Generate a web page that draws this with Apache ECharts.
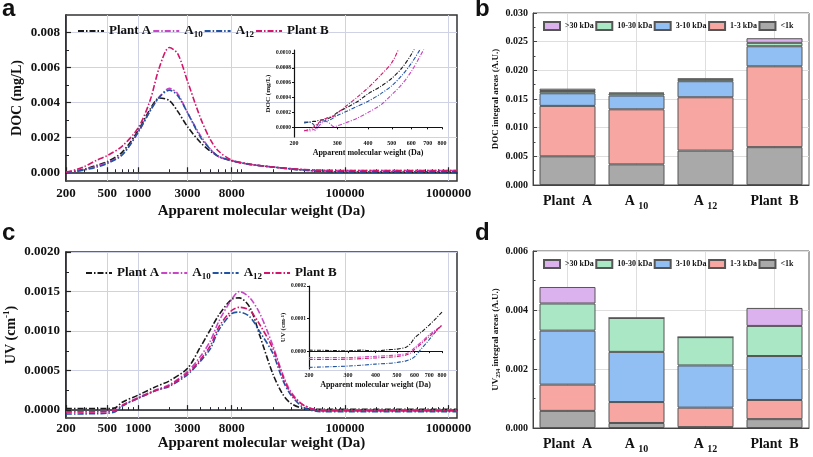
<!DOCTYPE html>
<html><head><meta charset="utf-8">
<script src="https://cdn.jsdelivr.net/npm/echarts@6/dist/echarts.min.js"></script>
<style>html,body{margin:0;padding:0;background:#fff}#c{width:813px;height:457px}</style>
</head><body><div id="c"></div><script>
// ================= DATA =================
const lineNames = ['Plant A', 'A10', 'A12', 'Plant B'];

// Panel a (DOC chromatogram)
const mwDoc = [200, 250, 300, 400, 500, 700, 1000, 1300, 1600, 2000, 2400, 3000, 4000, 5000, 6000, 8000, 12000, 20000, 35000, 60000, 100000, 300000, 1000000, 1200000];
const docPlantA = [0, 0.00008, 0.00018, 0.0004, 0.0006, 0.00115, 0.0024, 0.0036, 0.00425, 0.0041, 0.0035, 0.0026, 0.0017, 0.0012, 0.0009, 0.00066, 0.00045, 0.0003, 0.00015, 0.00006, 0.00002, 0.00001, 0.00001, 0.00001];
const docA10 = [0, 0.00006, 0.00015, 0.00035, 0.00055, 0.001, 0.0023, 0.0035, 0.0043, 0.0048, 0.0045, 0.0034, 0.0021, 0.0013, 0.0009, 0.00066, 0.00045, 0.0003, 0.00017, 0.0001, 0.0001, 0.0001, 0.0001, 0.0001];
const docA12 = [0, 0.00005, 0.00013, 0.0003, 0.0005, 0.001, 0.0023, 0.0035, 0.0043, 0.0047, 0.0044, 0.0034, 0.002, 0.0013, 0.0009, 0.00066, 0.00045, 0.0003, 0.00015, 0.00005, 0.00002, 0.00002, 0.00002, 0.00002];
const docPlantB = [0, 0.00015, 0.00032, 0.0007, 0.00095, 0.0015, 0.00255, 0.0041, 0.006, 0.00714, 0.0068, 0.0052, 0.0031, 0.00185, 0.0012, 0.0007, 0.00047, 0.0003, 0.00018, 0.00012, 0.0001, 0.0001, 0.0001, 0.0001];

// Panel a inset
const mwDocInset = [220, 230, 240, 245, 250, 260, 270, 280, 290, 300, 330, 360, 400, 450, 500, 550, 600, 650, 700];
const docInsPlantA = [0.00006, 0.00007, 0.00008, 0.00008, 0.00009, 0.0001, 0.00011, 0.00013, 0.00016, 0.0002, 0.00027, 0.00034, 0.00045, 0.00055, 0.00066, 0.0008, 0.00098, 0.0012, 0.0014];
const docInsA10 = [-0.00004, -0.00005, -0.00003, -0.00004, 0.0, 0.00006, 0.00008, 0.00005, 0.00001, 0.00002, 0.00007, 0.00012, 0.0002, 0.0003, 0.00044, 0.00058, 0.00075, 0.00095, 0.00115];
const docInsA12 = [0.00007, 0.00007, 0.00004, -0.00001, 0.00004, 0.00008, 0.00009, 0.0001, 0.00013, 0.00016, 0.00022, 0.00028, 0.00035, 0.00045, 0.00056, 0.0007, 0.00086, 0.00104, 0.0012];
const docInsPlantB = [-0.00005, -0.00003, 0.0, 0.00003, 0.00005, 0.0001, 0.00012, 0.00014, 0.00015, 0.00019, 0.0003, 0.0004, 0.00053, 0.0007, 0.00087, 0.00115, 0.0014, 0.0017, 0.002];

// Panel c (UV chromatogram)
const mwUv = [200, 300, 400, 500, 600, 700, 1000, 1500, 2000, 3000, 4000, 5000, 6000, 8000, 9500, 12000, 15000, 20000, 25000, 30000, 40000, 60000, 100000, 300000, 1000000, 1200000];
const uvPlantA = [0.00002, 0.00002, 0.00002, 0.00002, 0.00003, 0.0001, 0.00019, 0.0003, 0.00037, 0.00053, 0.0008, 0.00102, 0.0012, 0.0014, 0.00142, 0.0013, 0.00094, 0.00046, 0.0002, 0.000085, 0.00002, 0.00001, 0.00001, 0.00001, 0.00001, 0.00001];
const uvA10 = [-0.00002, -0.00002, -0.00002, -0.000015, 0.0, 0.00006, 0.00016, 0.00026, 0.00032, 0.00049, 0.00068, 0.00088, 0.00112, 0.0014, 0.0015, 0.00142, 0.00122, 0.00082, 0.00045, 0.00023, 0.00006, 0.0, 0.0, 0.0, 0.0, 0.0];
const uvA12 = [-0.00005, -0.000048, -0.000045, -0.00004, -0.00002, 0.00005, 0.00015, 0.00025, 0.0003, 0.00045, 0.00062, 0.00078, 0.00101, 0.00122, 0.00124, 0.00118, 0.00099, 0.00072, 0.00038, 0.00019, 0.00003, -0.00002, -0.00002, -0.00002, -0.00002, -0.00002];
const uvPlantB = [-0.000025, -0.000025, -0.000022, -0.00002, -0.000005, 0.00006, 0.00015, 0.00025, 0.00031, 0.00047, 0.00064, 0.00082, 0.00105, 0.00126, 0.0013, 0.00126, 0.00108, 0.00078, 0.00043, 0.00021, 0.00006, -0.00001, -0.00001, -0.00001, -0.00001, -0.00001];

// Panel c inset
const mwUvInset = [200, 250, 300, 350, 400, 450, 500, 550, 580, 600, 650, 700, 750, 800];
const uvInsPlantA = [0.000003, 0.000002, 0.000001, 0.000003, 0.0, 0.000004, 0.000006, 0.000012, 0.000025, 0.00004, 0.00006, 0.00008, 0.0001, 0.00012];
const uvInsA10 = [-0.00002, -0.00002, -0.00002, -0.000018, -0.000016, -0.000014, -0.000012, -0.000008, 0.0, 0.00001, 0.00003, 0.00005, 0.000065, 0.00008];
const uvInsA12 = [-0.00005, -0.000048, -0.000046, -0.000043, -0.00004, -0.000038, -0.000035, -0.00003, -0.000024, -0.000018, 0.00001, 0.000035, 0.00006, 0.00008];
const uvInsPlantB = [-0.000026, -0.000026, -0.000025, -0.000023, -0.000021, -0.000019, -0.000017, -0.000012, -0.000005, 0.000005, 0.000025, 0.000045, 0.000062, 0.00008];

// Panels b / d (stacked integral areas)
const barCategories = ['Plant A', 'A10', 'A12', 'Plant B'];
const fractionNames = ['<1k', '1-3 kDa', '3-10 kDa', '10-30 kDa', '>30 kDa'];
const docLt1k = [0.0050, 0.0036, 0.0060, 0.0066];
const doc1to3 = [0.0088, 0.0096, 0.0093, 0.0141];
const doc3to10 = [0.0022, 0.0024, 0.0028, 0.0035];
const doc10to30 = [0.0004, 0.00035, 0.00035, 0.0006];
const docGt30 = [0.0004, 0.00017, 0.0001, 0.0008];
const uvLt1k = [0.00058, 0.00017, 0.00003, 0.0003];
const uv1to3 = [0.00089, 0.00071, 0.00066, 0.00065];
const uv3to10 = [0.00183, 0.0017, 0.00143, 0.00149];
const uv10to30 = [0.00092, 0.00115, 0.00096, 0.00102];
const uvGt30 = [0.00056, 0, 0, 0.00061];

// Tick labels
const mwTicksMain = [200, 500, 1000, 3000, 8000, 100000, 1000000];
const mwTicksInset = [200, 300, 400, 500, 600, 700, 800];
const docTicks = [0, 0.002, 0.004, 0.006, 0.008];
const docMinorTicks = [0.001, 0.003, 0.005, 0.007];
const uvTicks = [0, 0.0005, 0.001, 0.0015, 0.002];
const uvMinorTicks = [0.00025, 0.00075, 0.00125, 0.00175];
const docInsetTicks = [0, 0.0002, 0.0004, 0.0006, 0.0008, 0.001];
const uvInsetTicks = [0, 0.0001, 0.0002];

// ================= CHART =================
const SERIF = '"Liberation Serif","Times New Roman",serif';
const L = Math.log10;
const lineColors = { 'Plant A': '#1a1a1a', 'A10': '#c944c6', 'A12': '#2153a3', 'Plant B': '#d3166c' };
const barColors = { '<1k': '#a9a9a9', '1-3 kDa': '#f7a6a1', '3-10 kDa': '#91bff4', '10-30 kDa': '#a9e7c5', '>30 kDa': '#dcb2ee' };
const DASH = [6, 2, 1.5, 2];
const DASH_S = [4, 1.5, 1, 1.5];

const minorMw = [];
for (let k = 2; k <= 6; k++) for (let m = 1; m <= 9; m++) {
  const v = m * Math.pow(10, k);
  if (v >= 200 && v <= 1200000 && mwTicksMain.indexOf(v) < 0) minorMw.push(v);
}
const pairs = (mw, vals) => mw.map((m, i) => [L(m), vals[i]]);
const subRich = {
  sub: { fontFamily: SERIF, fontWeight: 'bold', fontSize: 9, color: '#111', verticalAlign: 'bottom', lineHeight: 9 },
  sup: { fontFamily: SERIF, fontWeight: 'bold', fontSize: 9, color: '#111', verticalAlign: 'top', lineHeight: 9 }
};
const fmtName = n => n.replace(/^A(\d+)$/, 'A{sub|$1}');
const boldText = (size, extra) => Object.assign({ fontFamily: SERIF, fontWeight: 'bold', fontSize: size, color: '#111' }, extra || {});

const XMAX = 6.083;
function mainX(grid, nameGap, labelMargin) {
  return [{
    gridIndex: grid, type: 'value', position: 'bottom', min: L(200), max: XMAX,
    axisLine: { show: true, lineStyle: { color: '#222', width: 1.5 } },
    axisTick: { show: true, inside: true, length: 5, customValues: mwTicksMain.map(L), lineStyle: { color: '#222', width: 1.2 } },
    axisLabel: { customValues: mwTicksMain.map(L), formatter: v => String(Math.round(Math.pow(10, v))), margin: labelMargin, ...boldText(13) },
    splitLine: { show: true, lineStyle: { color: '#cfd1e4', width: 1 } },
    name: 'Apparent molecular weight (Da)', nameLocation: 'middle', nameGap: nameGap, nameTextStyle: boldText(15)
  }, {
    gridIndex: grid, type: 'value', position: 'bottom', min: L(200), max: XMAX,
    axisLine: { show: false }, axisLabel: { show: false }, splitLine: { show: false },
    axisTick: { show: true, inside: true, length: 3, customValues: minorMw.map(L), lineStyle: { color: '#223', width: 1 } }
  }];
}
function mainY(grid, min, max, ticks, minor, dec, name, nameGap) {
  return [{
    gridIndex: grid, type: 'value', position: 'left', min: min, max: max,
    axisLine: { show: true, lineStyle: { color: '#222', width: 1.5 } },
    axisTick: { show: true, inside: true, length: 5, customValues: ticks, lineStyle: { color: '#222', width: 1.2 } },
    axisLabel: { customValues: ticks, formatter: v => v.toFixed(dec), margin: 6, ...boldText(13) },
    splitLine: { show: true, lineStyle: { color: '#cfd1e4', width: 1 } },
    name: name, nameLocation: 'middle', nameRotate: 90, nameGap: nameGap,
    nameTextStyle: boldText(14, { lineHeight: 18, rich: subRich })
  }, {
    gridIndex: grid, type: 'value', position: 'left', min: min, max: max,
    axisLine: { show: false }, axisLabel: { show: false }, splitLine: { show: false },
    axisTick: { show: true, inside: true, length: 3, customValues: minor, lineStyle: { color: '#222', width: 1 } }
  }];
}
function insetX(grid) {
  return {
    gridIndex: grid, type: 'value', position: 'bottom', min: L(200), max: L(800),
    axisLine: { show: true, lineStyle: { color: '#111', width: 1.2 } },
    axisTick: { show: true, inside: false, length: 2, customValues: mwTicksInset.map(L), lineStyle: { color: '#111' } },
    axisLabel: { customValues: mwTicksInset.map(L), formatter: v => String(Math.round(Math.pow(10, v))), margin: 3, ...boldText(6) },
    splitLine: { show: false },
    name: 'Apparent molecular weight (Da)', nameLocation: 'middle', nameGap: 12, nameTextStyle: boldText(8)
  };
}
function insetY(grid, min, max, ticks, name) {
  return {
    gridIndex: grid, type: 'value', position: 'left', min: min, max: max,
    axisLine: { show: true, lineStyle: { color: '#111', width: 1.2 } },
    axisTick: { show: true, inside: false, length: 2, customValues: ticks, lineStyle: { color: '#111' } },
    axisLabel: { customValues: ticks, formatter: v => v.toFixed(4), margin: 3, ...boldText(5.5) },
    splitLine: { show: false },
    name: name, nameLocation: 'middle', nameRotate: 90, nameGap: 21,
    nameTextStyle: boldText(7, { rich: { sup: { fontFamily: SERIF, fontWeight: 'bold', fontSize: 5, verticalAlign: 'top', lineHeight: 5, color: '#111' } } })
  };
}
// value axis used for bar labels, ticks and vertical grid lines (centres at 1..4)
function barX(grid, margin) {
  return {
    gridIndex: grid, type: 'value', position: 'bottom', min: 0.5, max: 4.5,
    axisLine: { show: true, lineStyle: { color: '#444', width: 1 } },
    axisTick: { show: true, inside: true, length: 4, customValues: [1, 2, 3, 4], lineStyle: { color: '#444' } },
    axisLabel: {
      customValues: [1, 2, 3, 4], margin: margin, ...boldText(14, { rich: { sub: { fontFamily: SERIF, fontWeight: 'bold', fontSize: 10, color: '#111', verticalAlign: 'bottom', lineHeight: 10 } }, lineHeight: 20 }),
      formatter: v => { const n = barCategories[Math.round(v) - 1]; return /^A\d+$/.test(n) ? n.replace(/^A(\d+)$/, 'A {sub|$1}') : n.replace(' ', '  '); }
    },
    splitLine: { show: true, lineStyle: { color: '#dedede', width: 1 } }
  };
}
// hidden category axis that places the stacked bars
function barCat(grid) {
  return {
    gridIndex: grid, type: 'category', position: 'bottom', data: barCategories, boundaryGap: true,
    axisLine: { show: false }, axisTick: { show: false }, axisLabel: { show: false }, splitLine: { show: false }
  };
}
function barY(grid, max, interval, name, nameGap) {
  return {
    gridIndex: grid, type: 'value', position: 'left', min: 0, max: max, interval: interval,
    axisLine: { show: true, lineStyle: { color: '#444', width: 1 } },
    axisTick: { show: true, inside: true, length: 4, lineStyle: { color: '#444' } },
    minorTick: { show: true, splitNumber: 2, length: 2.5, lineStyle: { color: '#444' } },
    axisLabel: { formatter: v => v.toFixed(3), margin: 5, ...boldText(10) },
    splitLine: { show: true, lineStyle: { color: '#dedede', width: 1 } },
    name: name, nameLocation: 'middle', nameRotate: 90, nameGap: nameGap,
    nameTextStyle: boldText(9, { lineHeight: 12, rich: { sub: { fontFamily: SERIF, fontWeight: 'bold', fontSize: 6, color: '#111', verticalAlign: 'bottom', lineHeight: 6 } } })
  };
}

function lineSeries(name, mw, vals, xi, yi, small) {
  return {
    type: 'line', name: name, xAxisIndex: xi, yAxisIndex: yi, data: pairs(mw, vals),
    symbol: 'none', smooth: 0.3, clip: true, z: 3,
    lineStyle: { color: lineColors[name], width: small ? 1.1 : 1.6, type: small ? DASH_S : DASH },
    itemStyle: { color: lineColors[name] }
  };
}
function barSeries(name, vals, xi, yi, stack) {
  return {
    type: 'bar', name: name, stack: stack, xAxisIndex: xi, yAxisIndex: yi, barWidth: 56,
    data: vals.slice(),
    itemStyle: { color: barColors[name], borderColor: '#555', borderWidth: 1 }
  };
}

const lineLegend = (left, top) => ({
  data: lineNames, left: left, top: top, orient: 'horizontal', itemWidth: 26, itemHeight: 14, itemGap: 1,
  itemStyle: { opacity: 0, borderWidth: 0 },
  formatter: fmtName, textStyle: boldText(13, { lineHeight: 16, rich: subRich }), selectedMode: false
});
const barLegend = (top) => ({
  data: fractionNames.slice().reverse(), left: 538, top: top, orient: 'horizontal', icon: 'rect',
  itemWidth: 16, itemHeight: 8, itemGap: 1.5, textStyle: boldText(8), selectedMode: false
});

const docSets = [docPlantA, docA10, docA12, docPlantB];
const docInsSets = [docInsPlantA, docInsA10, docInsA12, docInsPlantB];
const uvSets = [uvPlantA, uvA10, uvA12, uvPlantB];
const uvInsSets = [uvInsPlantA, uvInsA10, uvInsA12, uvInsPlantB];
const docBars = [docLt1k, doc1to3, doc3to10, doc10to30, docGt30];
const uvBars = [uvLt1k, uv1to3, uv3to10, uv10to30, uvGt30];

const series = [];
lineNames.forEach((n, i) => series.push(lineSeries(n, mwDoc, docSets[i], 0, 0)));
lineNames.forEach((n, i) => series.push(lineSeries(n, mwDocInset, docInsSets[i], 2, 2, true)));
fractionNames.forEach((n, i) => series.push(barSeries(n, docBars[i], 8, 3, 'doc')));
lineNames.forEach((n, i) => series.push(lineSeries(n, mwUv, uvSets[i], 4, 4)));
lineNames.forEach((n, i) => series.push(lineSeries(n, mwUvInset, uvInsSets[i], 6, 6, true)));
fractionNames.forEach((n, i) => series.push(barSeries(n, uvBars[i], 9, 7, 'uv')));

const gridBase = { show: true, backgroundColor: 'transparent', borderColor: '#333', borderWidth: 1.5, containLabel: false, outerBoundsMode: 'none' };
const option = {
  animation: false,
  backgroundColor: '#fff',
  grid: [
    Object.assign({}, gridBase, { left: 66, top: 15, width: 391, height: 166 }),
    { show: false, left: 294, top: 50, width: 148, height: 87, containLabel: false, outerBoundsMode: 'none' },
    Object.assign({}, gridBase, { left: 533, top: 13, width: 276, height: 172, borderColor: '#555', borderWidth: 1 }),
    Object.assign({}, gridBase, { left: 66, top: 252, width: 391, height: 166 }),
    { show: false, left: 309, top: 286, width: 133, height: 83, containLabel: false, outerBoundsMode: 'none' },
    Object.assign({}, gridBase, { left: 533, top: 251, width: 276, height: 177, borderColor: '#555', borderWidth: 1 })
  ],
  xAxis: [
    ...mainX(0, 23, 6),
    insetX(1),
    barX(2, 6),
    ...mainX(3, 13, 4),
    insetX(4),
    barX(5, 6),
    barCat(2),
    barCat(5)
  ],
  yAxis: [
    ...mainY(0, -0.0005, 0.009, docTicks, docMinorTicks, 3, 'DOC (mg/L)', 39),
    insetY(1, -0.00013, 0.00104, docInsetTicks, 'DOC (mg/L)'),
    barY(2, 0.03, 0.005, 'DOC integral areas (A.U.)', 28),
    ...mainY(3, -0.0001, 0.002, uvTicks, uvMinorTicks, 4, 'UV (cm{sup|-1})', 41),
    insetY(4, -0.000055, 0.0002, uvInsetTicks, 'UV (cm{sup|-1})'),
    barY(5, 0.006, 0.002, 'UV{sub|254} integral areas (A.U.)', 30)
  ],
  legend: [lineLegend(72, 18), barLegend(16), lineLegend(80, 260), barLegend(254)],
  series: series,
  graphic: [
    { type: 'text', left: 2, top: -3, style: { text: 'a', font: 'bold 24px "Liberation Sans", Arial, sans-serif', fill: '#111' } },
    { type: 'text', left: 475, top: -3, style: { text: 'b', font: 'bold 24px "Liberation Sans", Arial, sans-serif', fill: '#111' } },
    { type: 'text', left: 2, top: 221, style: { text: 'c', font: 'bold 24px "Liberation Sans", Arial, sans-serif', fill: '#111' } },
    { type: 'text', left: 475, top: 221, style: { text: 'd', font: 'bold 24px "Liberation Sans", Arial, sans-serif', fill: '#111' } }
  ]
};
const chart = echarts.init(document.getElementById('c'), null, { renderer: 'canvas' });
chart.setOption(option);
</script></body></html>
